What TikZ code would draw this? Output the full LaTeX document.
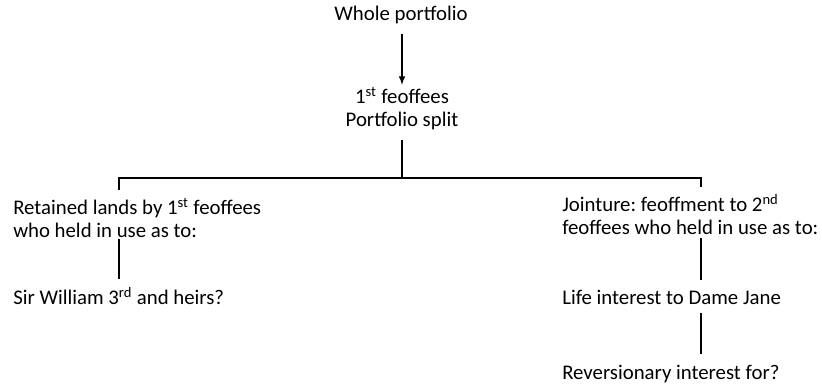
\documentclass[tikz,border=0pt]{standalone}
\usepackage{fontspec}
\setmainfont{Carlito}
\frenchspacing
\tikzset{every node/.style={inner sep=0pt,font=\fontsize{15.6}{17.25}\selectfont},
  txt/.style={anchor=west,align=left},
  branch/.style={line width=1.5pt}}

\begin{document}
\begin{tikzpicture}[x=0.75pt,y=-0.75pt]
  \useasboundingbox (0,0) rectangle (822,383);
  % x positions of the vertical lines, y of the bar
  \coordinate (lx) at (119,0);
  \coordinate (rx) at (701,0);
  \coordinate (bar) at (0,178);

  \node (whole) at (401,15) {Whole portfolio};
  \node[align=center] (split) at (402,109) {1\textsuperscript{st} feoffees\\Portfolio split};

  \node[txt] (ret) at (13,218) {Retained lands by 1\textsuperscript{st} feoffees\\who held in use as to:};
  \node[txt] (sir) at (13,296) {Sir William 3\textsuperscript{rd} and heirs?};

  \node[txt] (jnt) at (562,215) {Jointure: feoffment to 2\textsuperscript{nd}\\feoffees who held in use as to:};
  \node[txt] (life) at (562,297) {Life interest to Dame Jane};
  \node[txt] (rev) at (562,374) {Reversionary interest for?};

  \draw[->,>=latex,line width=1.2pt,shorten <=7pt,shorten >=2pt] (whole.south -| split) -- (split.north);
  \draw[branch,shorten <=7pt] (split.south) -- (split.south |- bar);
  \draw[branch,shorten <=6pt,shorten >=6pt] (ret.north -| lx) |- (bar -| rx) -- (jnt.north -| rx);
  \draw[branch,shorten <=1pt,shorten >=6pt] (ret.south -| lx) -- (sir.north -| lx);
  \draw[branch,shorten <=2pt,shorten >=7pt] (jnt.south -| rx) -- (life.north -| rx);
  \draw[branch,shorten <=6pt,shorten >=8pt] (life.south -| rx) -- (rev.north -| rx);
\end{tikzpicture}
\end{document}
